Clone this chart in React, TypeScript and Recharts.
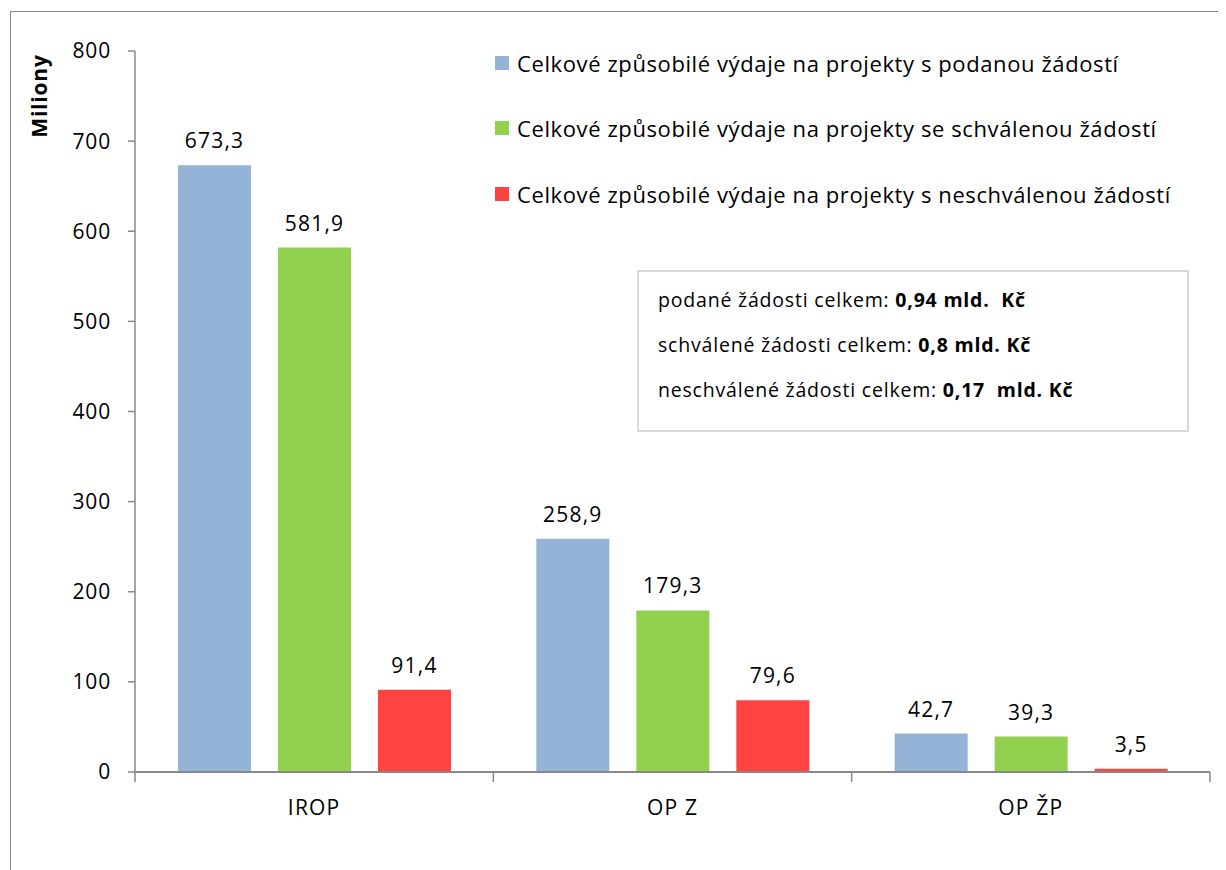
import { Bar, BarChart, LabelList, Legend, XAxis, YAxis } from 'recharts';

const categories = ['IROP', 'OP Z', 'OP ŽP'];
const podane = [673.3, 258.9, 42.7];
const schvalene = [581.9, 179.3, 39.3];
const neschvalene = [91.4, 79.6, 3.5];
const yTicks = [0, 100, 200, 300, 400, 500, 600, 700, 800];

const seriesNames = [
    'Celkové způsobilé výdaje na projekty s podanou žádostí',
    'Celkové způsobilé výdaje na projekty se schválenou žádostí',
    'Celkové způsobilé výdaje na projekty s neschválenou žádostí',
];
const colors = ['#95b3d7', '#92d050', '#ff4343'];

const data = categories.map((c, i) => ({
    name: c,
    podane: podane[i],
    schvalene: schvalene[i],
    neschvalene: neschvalene[i],
}));

const FONT = '"Open Sans", Lato, sans-serif';
const fmt = (v: any) => Number(v).toFixed(1).replace('.', ',');
const labelStyle = { fill: '#000', fontSize: 21, fontFamily: FONT, letterSpacing: 1.2 };

function CategoryTick(props: any) {
    const { x, y, payload, index, width, visibleTicksCount } = props;
    const band = (width || 1075) / (visibleTicksCount || 3);
    const left = x - band / 2;
    return (
        <g>
            <line x1={left} y1={y - 8} x2={left} y2={y + 2} stroke="#888" strokeWidth={1.5} />
            {index === visibleTicksCount - 1 && (
                <line x1={left + band} y1={y - 8} x2={left + band} y2={y + 2} stroke="#888" strokeWidth={1.5} />
            )}
            <text x={x} y={y + 35} textAnchor="middle" fill="#000" fontSize={21} letterSpacing={1.2} fontFamily={FONT}>
                {payload.value}
            </text>
        </g>
    );
}

function LegendBox() {
    return (
        <div style={{ fontFamily: FONT, fontSize: 22, letterSpacing: 0.6, color: '#000', textAlign: 'left' }}>
            {seriesNames.map((n, i) => (
                <div key={n} style={{ display: 'flex', alignItems: 'center', height: 65.5, whiteSpace: 'nowrap' }}>
                    <span style={{ width: 14, height: 14, background: colors[i], marginRight: 8, display: 'inline-block' }} />
                    <span>{n}</span>
                </div>
            ))}
        </div>
    );
}

export default function App() {
    return (
        <div style={{ position: 'relative', width: 1218, height: 862 }}>
            <div
                style={{
                    position: 'absolute',
                    left: 2,
                    top: 3,
                    width: 1230,
                    height: 900,
                    borderTop: '1.5px solid #888',
                    borderLeft: '1.5px solid #888',
                }}
            />
            <BarChart
                width={1218}
                height={862}
                data={data}
                margin={{ top: 43, right: 16, left: 0, bottom: 38 }}
                barSize={73}
                barGap={27}
                style={{ position: 'absolute', left: 0, top: 0 }}
            >
                <YAxis
                    width={127}
                    domain={[0, 800]}
                    ticks={yTicks}
                    interval={0}
                    stroke="#888"
                    strokeWidth={1.5}
                    tickSize={7}
                    tickMargin={17}
                    tick={{ fill: '#000', fontSize: 21, fontFamily: FONT, letterSpacing: 0.8 }}
                />
                <XAxis
                    dataKey="name"
                    height={60}
                    stroke="#888"
                    strokeWidth={2}
                    tickLine={false}
                    interval={0}
                    tick={<CategoryTick />}
                />
                <Legend
                    layout="vertical"
                    verticalAlign="middle"
                    align="center"
                    content={<LegendBox />}
                    wrapperStyle={{ top: 22, left: 487, width: 720 }}
                />
                <Bar dataKey="podane" name={seriesNames[0]} fill={colors[0]} isAnimationActive={false}>
                    <LabelList dataKey="podane" position="top" offset={17} formatter={fmt} {...labelStyle} />
                </Bar>
                <Bar dataKey="schvalene" name={seriesNames[1]} fill={colors[1]} isAnimationActive={false}>
                    <LabelList dataKey="schvalene" position="top" offset={17} formatter={fmt} {...labelStyle} />
                </Bar>
                <Bar dataKey="neschvalene" name={seriesNames[2]} fill={colors[2]} isAnimationActive={false}>
                    <LabelList dataKey="neschvalene" position="top" offset={17} formatter={fmt} {...labelStyle} />
                </Bar>
            </BarChart>
            <div
                style={{
                    position: 'absolute',
                    left: 31,
                    top: 88,
                    transform: 'translate(-50%, -50%) rotate(-90deg)',
                    fontFamily: FONT,
                    fontWeight: 700,
                    fontSize: 21,
                    letterSpacing: 0.8,
                    whiteSpace: 'nowrap',
                }}
            >
                Miliony
            </div>
            <div
                style={{
                    position: 'absolute',
                    left: 629,
                    top: 262,
                    width: 552,
                    height: 162,
                    border: '2px solid #d9d9d9',
                    fontFamily: FONT,
                    fontSize: 19.5,
                    letterSpacing: 0.8,
                    color: '#000',
                    boxSizing: 'border-box',
                    paddingLeft: 19,
                    paddingTop: 13,
                    whiteSpace: 'nowrap',
                }}
            >
                <div style={{ height: 45, lineHeight: '30px' }}>
                    podané žádosti celkem: <b>0,94 mld.&nbsp; Kč</b>
                </div>
                <div style={{ height: 45, lineHeight: '30px' }}>
                    schválené žádosti celkem: <b>0,8 mld. Kč</b>
                </div>
                <div style={{ height: 45, lineHeight: '30px' }}>
                    neschválené žádosti celkem: <b>0,17&nbsp; mld. Kč</b>
                </div>
            </div>
        </div>
    );
}
